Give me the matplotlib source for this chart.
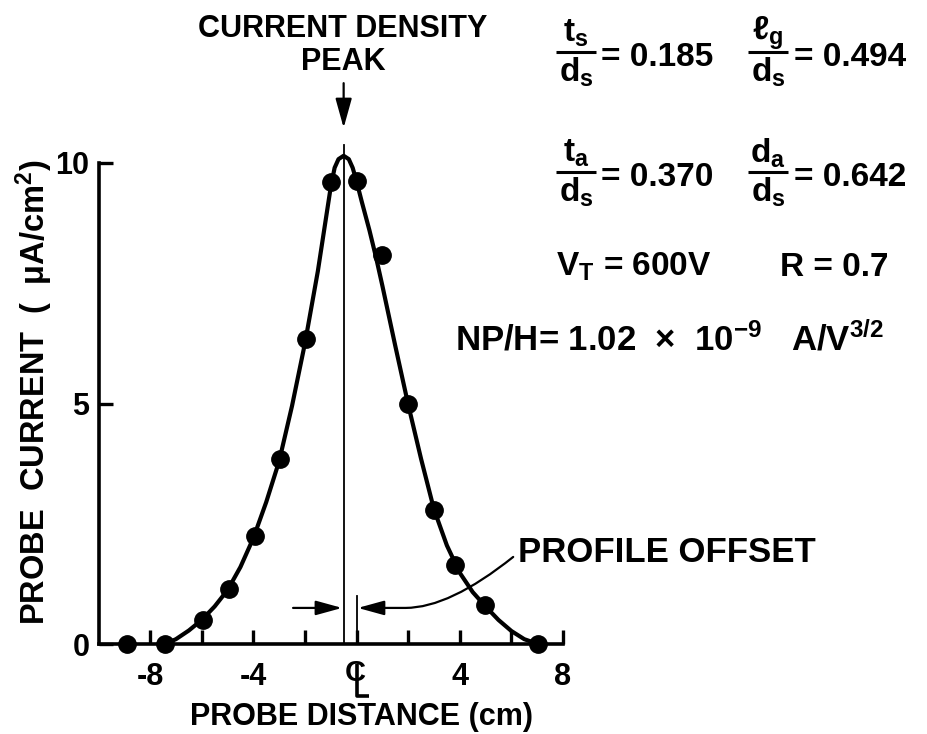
import matplotlib
matplotlib.use('Agg')
import matplotlib.pyplot as plt
from matplotlib.patches import FancyArrowPatch
from matplotlib.path import Path
from matplotlib.lines import Line2D

plt.rcParams['font.family'] = ['Liberation Sans', 'DejaVu Sans']
plt.rcParams['font.weight'] = 'bold'
plt.rcParams['mathtext.fontset'] = 'custom'
plt.rcParams['mathtext.rm'] = 'Liberation Sans:bold'
plt.rcParams['mathtext.it'] = 'Liberation Sans:bold'
plt.rcParams['mathtext.bf'] = 'Liberation Sans:bold'
plt.rcParams['mathtext.default'] = 'regular'

# ---- data ----
probe_x = [-8.9, -7.42, -5.95, -4.95, -3.95, -2.95, -1.95, -1.0, 0.03, 0.98, 2.0, 3.0, 3.82, 4.98, 7.03]
probe_y = [0.0, 0.0, 0.5, 1.15, 2.25, 3.85, 6.35, 9.6, 9.62, 8.09, 4.98, 2.78, 1.64, 0.81, 0.0]

curve_x = [-7.42, -7.0, -6.5, -6.0, -5.5, -5.0, -4.5, -4.0, -3.5, -3.0, -2.5, -2.0, -1.5,
           -1.2, -1.0, -0.85, -0.7, -0.5, -0.3, -0.15, 0.0, 0.2, 0.5, 0.75, 1.0, 1.5,
           2.0, 2.5, 3.0, 3.5, 4.0, 4.5, 5.0, 5.5, 6.0, 6.5, 7.03]
curve_y = [0.0, 0.1, 0.28, 0.5, 0.78, 1.12, 1.6, 2.2, 2.95, 3.8, 4.95, 6.25, 7.75,
           8.8, 9.5, 9.9, 10.08, 10.15, 10.08, 9.9, 9.62, 9.2, 8.6, 8.05, 7.45, 6.2,
           4.98, 3.85, 2.8, 2.05, 1.48, 1.08, 0.78, 0.5, 0.27, 0.1, 0.0]

peak_x = -0.5
x_ticks = [-8, -6, -4, -2, 0, 2, 4, 6, 8]
x_tick_labels = ['-8', '', '-4', '', '', '', '4', '', '8']
y_ticks = [0, 5, 10]
y_tick_labels = ['0', '5', '10']

# ---- layout ----
W, H = 927, 734
fig = plt.figure(figsize=(W / 100, H / 100), dpi=100)
X0, X1, Y0 = 99, 563, 644
PXY = 48.1
YMAX = 10.5
ax = fig.add_axes([X0 / W, (H - Y0) / H, (X1 - X0) / W, YMAX * PXY / H])
ax.set_xlim(-9.98, 8.0)
ax.set_ylim(0, YMAX)

for s in ['top', 'right']:
    ax.spines[s].set_visible(False)
for s in ['left', 'bottom']:
    ax.spines[s].set_linewidth(2.6)
ax.spines['left'].set_bounds(0, 10)

FS = 22
ax.set_xticks(x_ticks)
ax.set_xticklabels(x_tick_labels, fontsize=FS, fontweight='bold')
ax.set_yticks(y_ticks)
ax.set_yticklabels(y_tick_labels, fontsize=FS, fontweight='bold')
ax.tick_params(direction='in', length=10, width=2.4)
ax.tick_params(axis='x', pad=13)
ax.tick_params(axis='y', pad=7)

# curve and points
ax.plot(curve_x, curve_y, color='black', lw=3.0, clip_on=False, solid_capstyle='round')
ax.plot(probe_x, probe_y, 'o', color='black', ms=12.5, clip_on=False)

# peak line and centre line marker
ax.plot([peak_x, peak_x], [0, 10.37], color='black', lw=1.3, clip_on=False)
ax.plot([0, 0], [0, 1.0], color='black', lw=1.3, clip_on=False)


def ft(px, py, s, **kw):
    kw.setdefault('fontsize', FS)
    kw.setdefault('va', 'center')
    kw.setdefault('fontweight', 'bold')
    fig.text(px / W, 1 - py / H, s, **kw)


def fline(xs, ys, lw=2.4):
    fig.add_artist(Line2D([x / W for x in xs], [1 - y / H for y in ys],
                          color='black', lw=lw, solid_capstyle='butt'))


# CL symbol under x=0 : a C crossed by an L
ft(355, 673, 'C', ha='center', fontsize=21)
fline([357, 357, 369], [664, 696, 696], lw=2.6)

# peak arrow
ax.annotate('', xy=(peak_x, 10.73), xytext=(peak_x, 11.66), annotation_clip=False,
            arrowprops=dict(arrowstyle='-|>,head_width=0.25,head_length=0.9', lw=1.6,
                            color='black', mutation_scale=20, shrinkA=0, shrinkB=0))

# profile offset arrows
astyle = '-|>,head_width=0.22,head_length=0.8'
left_arrow = FancyArrowPatch((-2.46, 0.75), (-0.56, 0.75), arrowstyle=astyle, lw=1.6,
                             color='black', mutation_scale=20, shrinkA=0, shrinkB=0,
                             clip_on=False)
ax.add_patch(left_arrow)
offset_path = Path([(6.07, 1.81), (3.6, 0.75), (1.9, 0.75), (0.05, 0.75)],
                   [Path.MOVETO, Path.CURVE3, Path.CURVE3, Path.LINETO])
right_arrow = FancyArrowPatch(path=offset_path, arrowstyle=astyle, lw=1.6, color='black',
                              mutation_scale=20, clip_on=False)
ax.add_patch(right_arrow)

ft(343, 29, 'CURRENT DENSITY', ha='center')
ft(343, 62, 'PEAK', ha='center')

FR = 24


def frac(cx, cy, num, den):
    ft(cx, cy - 24, num, ha='center', fontsize=FR)
    fline([cx - 20, cx + 20], [cy - 5, cy - 5], lw=2.2)
    ft(cx, cy + 15, den, ha='center', fontsize=FR)


frac(576, 57, r't$_{s}$', r'd$_{s}$')
ft(601, 57, '= 0.185', ha='left', fontsize=FR)
frac(768, 57, r'$\ell_{g}$', r'd$_{s}$')
ft(794, 57, '= 0.494', ha='left', fontsize=FR)

frac(576, 177, r't$_{a}$', r'd$_{s}$')
ft(601, 177, '= 0.370', ha='left', fontsize=FR)
frac(768, 177, r'd$_{a}$', r'd$_{s}$')
ft(794, 177, '= 0.642', ha='left', fontsize=FR)

ft(556, 267, r'V$_{T}$ = 600V', ha='left', fontsize=FR)
ft(780, 267, 'R = 0.7', ha='left', fontsize=FR)
ft(455, 340, r'NP/H= 1.02  ×  10$^{-9}$   A/V$^{3/2}$', ha='left', fontsize=25)

ft(518, 553, 'PROFILE OFFSET', ha='left', fontsize=25)

ft(361, 717, 'PROBE DISTANCE (cm)', ha='center')
ft(34, 392, r'PROBE  CURRENT  (  μA/cm$^{2}$)', ha='center', rotation=90, fontsize=23.5)

fig.savefig('out.png', dpi=100)
